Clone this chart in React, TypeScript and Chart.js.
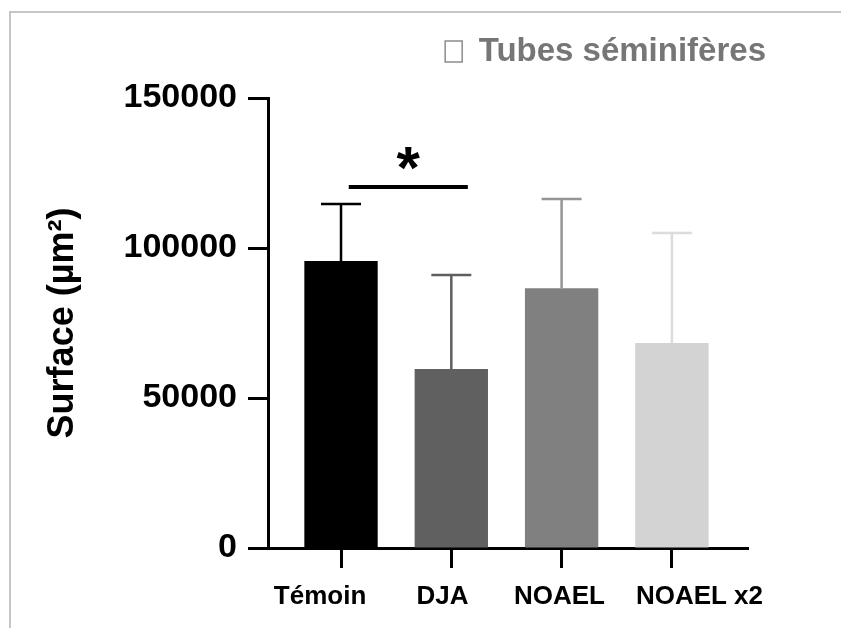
import React, { useEffect, useRef } from "react";
import { Chart, registerables } from "chart.js";

Chart.register(...registerables);

// ---- data ----
const categories = ["Témoin", "DJA", "NOAEL", "NOAEL x2"];
const means = [95700, 59700, 86600, 68300];
const sds = [19000, 31300, 29700, 36700];
const barColors = ["#000000", "#606060", "#808080", "#d3d3d3"];
const errColors = ["#000000", "#5f5f5f", "#959595", "#dcdcdc"];
const yTicks = [0, 50000, 100000, 150000];
// small horizontal shift of each category label relative to its tick (in category units)
const labelShift = [-0.19, -0.08, -0.02, 0.25];
const legendLabel = "Tubes séminifères";
const yTitle = "Surface (µm²)";
// significance bracket between Témoin (0) and DJA (1)
const sigFrom = 0.07;
const sigTo = 1.15;
const sigValue = 120300;
const sigStarX = 0.61;
const sigStarValue = 130000;
const sigText = "*";

const FONT = "'Liberation Sans', Arial, Helvetica, sans-serif";
const X_MIN = -0.662;
const X_MAX = 3.69;

const overlayPlugin = {
  id: "overlay",
  afterDatasetsDraw(chart: any) {
    const { ctx } = chart;
    const x = chart.scales.x;
    const y = chart.scales.y;
    const meta = chart.getDatasetMeta(0);
    ctx.save();
    meta.data.forEach((bar: any, i: number) => {
      const cx = bar.x;
      const top = y.getPixelForValue(means[i]);
      const errTop = y.getPixelForValue(means[i] + sds[i]);
      ctx.strokeStyle = errColors[i];
      ctx.lineWidth = 2.5;
      ctx.beginPath();
      ctx.moveTo(cx, top);
      ctx.lineTo(cx, errTop);
      ctx.moveTo(cx - 20, errTop);
      ctx.lineTo(cx + 20, errTop);
      ctx.stroke();
    });
    // significance line
    const ly = y.getPixelForValue(sigValue);
    ctx.strokeStyle = "#000";
    ctx.lineWidth = 4;
    ctx.beginPath();
    ctx.moveTo(x.getPixelForValue(sigFrom), ly);
    ctx.lineTo(x.getPixelForValue(sigTo), ly);
    ctx.stroke();
    // asterisk
    ctx.fillStyle = "#000";
    ctx.font = `bold 60px ${FONT}`;
    ctx.textAlign = "center";
    ctx.textBaseline = "alphabetic";
    const m = ctx.measureText(sigText);
    const sy = y.getPixelForValue(sigStarValue);
    const off = (m.actualBoundingBoxAscent - m.actualBoundingBoxDescent) / 2;
    ctx.fillText(sigText, x.getPixelForValue(sigStarX), sy + off);
    ctx.restore();
  },
};

export default function App() {
  const ref = useRef<HTMLCanvasElement | null>(null);

  useEffect(() => {
    if (!ref.current) return;
    const chart = new Chart(ref.current, {
      type: "bar",
      data: {
        datasets: [
          {
            label: legendLabel,
            data: means.map((v, i) => ({ x: i, y: v })),
            backgroundColor: barColors,
            borderWidth: 0,
            barPercentage: 0.665,
            categoryPercentage: 1,
          },
        ],
      },
      options: {
        animation: false,
        responsive: false,
        devicePixelRatio: 1,
        layout: { padding: { top: 15, right: 55, bottom: 0, left: 0 } },
        plugins: {
          tooltip: { enabled: false },
          legend: {
            position: "top",
            align: "end",
            labels: {
              boxWidth: 17,
              boxHeight: 21,
              padding: 20,
              color: "#767676",
              font: { family: FONT, size: 33, weight: "bold" },
              generateLabels: () => [
                {
                  text: legendLabel,
                  fillStyle: "#ffffff",
                  strokeStyle: "#8c8c8c",
                  lineWidth: 1.5,
                  hidden: false,
                  datasetIndex: 0,
                  fontColor: "#767676",
                },
              ],
            },
          },
        },
        scales: {
          x: {
            type: "linear",
            min: X_MIN,
            max: X_MAX,
            offset: false,
            weight: 0,
            afterBuildTicks: (s: any) => {
              s.ticks = categories.map((_, i) => ({ value: i }));
            },
            afterFit: (s: any) => {
              s.height = 20;
            },
            grid: {
              offset: false,
              drawOnChartArea: false,
              drawTicks: true,
              tickLength: 20,
              tickWidth: 3,
              color: "#000",
            },
            border: { display: true, color: "#000", width: 3 },
            ticks: { display: false },
          },
          xLabels: {
            type: "linear",
            position: "bottom",
            min: X_MIN,
            max: X_MAX,
            offset: false,
            weight: 1,
            afterBuildTicks: (s: any) => {
              s.ticks = categories.map((_, i) => ({ value: i + labelShift[i] }));
            },
            afterFit: (s: any) => {
              s.height = 60;
            },
            grid: { display: false, drawTicks: false },
            border: { display: false },
            ticks: {
              autoSkip: false,
              maxRotation: 0,
              padding: 13,
              color: "#000",
              font: { family: FONT, size: 26, weight: "bold" },
              callback: (_v: any, i: number) => categories[i] ?? "",
            },
          },
          xTopSpacer: {
            type: "linear",
            position: "top",
            display: true,
            grid: { display: false, drawTicks: false },
            border: { display: false },
            ticks: { display: false },
            afterFit: (s: any) => {
              s.height = 20;
            },
          },
          y: {
            type: "linear",
            position: "left",
            min: 0,
            max: 150000,
            afterBuildTicks: (s: any) => {
              s.ticks = yTicks.map((v) => ({ value: v }));
            },
            afterFit: (s: any) => {
              s.width = 268;
            },
            grid: {
              drawOnChartArea: false,
              drawTicks: true,
              tickLength: 20,
              tickWidth: 3,
              color: "#000",
            },
            border: { display: true, color: "#000", width: 3 },
            ticks: {
              padding: 11,
              color: "#000",
              font: { family: FONT, size: 34, weight: "bold" },
              callback: (v: any) => String(v),
            },
            title: {
              display: true,
              text: yTitle,
              color: "#000",
              font: { family: FONT, size: 36, weight: "bold" },
              padding: { top: 41, bottom: 0 },
            },
          },
          y2: {
            type: "linear",
            position: "right",
            display: true,
            grid: { display: false, drawTicks: false },
            border: { display: false },
            ticks: { display: false },
            afterFit: (s: any) => {
              s.width = 38;
            },
          },
        },
      } as any,
      plugins: [overlayPlugin],
    });
    return () => chart.destroy();
  }, []);

  return (
    <div
      style={{
        position: "fixed",
        left: 0,
        top: 0,
        width: 841,
        height: 628,
        overflow: "hidden",
        background: "#fff",
      }}
    >
      <div
        style={{
          position: "absolute",
          left: 9,
          top: 11,
          width: 900,
          height: 700,
          borderLeft: "2px solid #c6c6c6",
          borderTop: "2px solid #c6c6c6",
        }}
      />
      <canvas
        ref={ref}
        width={841}
        height={628}
        style={{ position: "absolute", left: 0, top: 0 }}
      />
    </div>
  );
}
